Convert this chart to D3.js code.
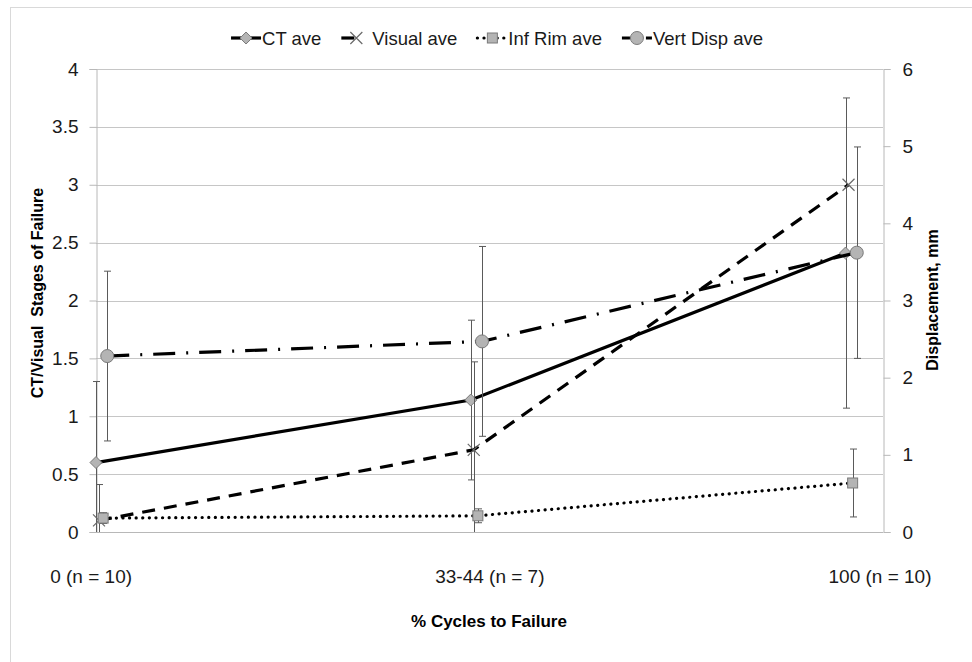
<!DOCTYPE html>
<html>
<head>
<meta charset="utf-8">
<script src="https://cdn.jsdelivr.net/npm/d3@7"></script>
<style>
  body { margin: 0; background: #fff; }
  svg { font-family: "Liberation Sans", Arial, sans-serif; }
</style>
</head>
<body>
<div id="chart"></div>
<script>
// category positions (x) and labels
const xCats = [0, 1, 2];
const catLabels = ["0 (n = 10)", "33-44 (n = 7)", "100 (n = 10)"];
const catLabelPos = [-0.013, 1.051, 2.092];

// left axis series (stages)
const ctAve = [0.6, 1.14, 2.41];
const ctErr = [0.7, 0.69, 1.34];
const visualAve = [0.1, 0.71, 3.0];
const visualErr = [0.31, 0.76, 0];

// right axis series (mm)
const infRimAve = [0.18, 0.21, 0.635];
const infRimErr = [0.07, 0.09, 0.44];
const vertDispAve = [2.28, 2.47, 3.62];
const vertDispErr = [1.1, 1.23, 1.37];

const leftTicks = [0, 0.5, 1, 1.5, 2, 2.5, 3, 3.5, 4];
const rightTicks = [0, 1, 2, 3, 4, 5, 6];

const width = 972, height = 662;
const plot = { left: 96, right: 883, top: 69, bottom: 532 };

const svg = d3.select("#chart").append("svg")
  .attr("width", width)
  .attr("height", height);

// outer chart border
svg.append("rect")
  .attr("x", 10.5).attr("y", 7.5)
  .attr("width", 1000).attr("height", 700)
  .attr("fill", "none").attr("stroke", "#d9d9d9");

const x = d3.scaleLinear().domain([0, 2.1]).range([plot.left, plot.right]);
const yL = d3.scaleLinear().domain([0, 4]).range([plot.bottom, plot.top]);
const yR = d3.scaleLinear().domain([0, 6]).range([plot.bottom, plot.top]);

// gridlines
svg.append("g").selectAll("line").data(leftTicks.filter(d => d > 0)).join("line")
  .attr("x1", plot.left).attr("x2", plot.right)
  .attr("y1", d => Math.round(yL(d)) + 0.5).attr("y2", d => Math.round(yL(d)) + 0.5)
  .attr("stroke", "#c6c6c6");

// axes
const axL = svg.append("g").attr("transform", `translate(${plot.left + 0.5},0)`)
  .call(d3.axisLeft(yL).tickValues(leftTicks).tickFormat(d3.format("")).tickSize(7).tickPadding(11));
const axR = svg.append("g").attr("transform", `translate(${plot.right + 0.5},0)`)
  .call(d3.axisRight(yR).tickValues(rightTicks).tickFormat(d3.format("")).tickSize(7).tickPadding(12));
[axL, axR].forEach(a => {
  a.attr("font-size", 19).attr("font-family", "Liberation Sans, Arial, sans-serif");
  a.select(".domain").attr("stroke", "#b8b8b8");
  a.selectAll(".tick line").attr("stroke", "#b8b8b8");
  a.selectAll(".tick text").attr("fill", "#1a1a1a");
});
svg.append("line")
  .attr("x1", plot.left).attr("x2", plot.right)
  .attr("y1", plot.bottom + 0.5).attr("y2", plot.bottom + 0.5)
  .attr("stroke", "#b8b8b8");

// category labels
svg.append("g").selectAll("text").data(catLabels).join("text")
  .attr("x", (d, i) => x(catLabelPos[i]))
  .attr("y", 583)
  .attr("text-anchor", "middle")
  .attr("font-size", 19)
  .attr("fill", "#1a1a1a")
  .text(d => d);

// axis titles
svg.append("text")
  .attr("transform", "translate(43,293) rotate(-90)")
  .attr("text-anchor", "middle")
  .attr("font-size", 16).attr("font-weight", "bold")
  .attr("xml:space", "preserve")
  .text("CT/Visual  Stages of Failure");
svg.append("text")
  .attr("transform", "translate(938,300) rotate(-90)")
  .attr("text-anchor", "middle")
  .attr("font-size", 16).attr("font-weight", "bold")
  .text("Displacement, mm");
svg.append("text")
  .attr("x", 489).attr("y", 627)
  .attr("text-anchor", "middle")
  .attr("font-size", 17).attr("font-weight", "bold")
  .text("% Cycles to Failure");

// series definitions
const series = [
  { name: "CT ave", vals: ctAve, err: ctErr, y: yL, off: 0, dash: null, cap: "butt", marker: "diamond" },
  { name: "Visual ave", vals: visualAve, err: visualErr, y: yL, off: 0.008, dash: "13,9", cap: "butt", marker: "cross" },
  { name: "Inf Rim ave", vals: infRimAve, err: infRimErr, y: yR, off: 0.019, dash: "0.1,6.5", cap: "round", marker: "square" },
  { name: "Vert Disp ave", vals: vertDispAve, err: vertDispErr, y: yR, off: 0.03, dash: "22,11,2,11", cap: "butt", marker: "circle" }
];

const markerFill = "#b4b4b4", markerStroke = "#7a7a7a";

function drawMarker(g, type, cx, cy) {
  if (type === "diamond") {
    g.append("path")
      .attr("d", `M${cx},${cy - 6}L${cx + 6},${cy}L${cx},${cy + 6}L${cx - 6},${cy}Z`)
      .attr("fill", markerFill).attr("stroke", markerStroke).attr("stroke-width", 1);
  } else if (type === "square") {
    g.append("rect")
      .attr("x", cx - 5).attr("y", cy - 5).attr("width", 10).attr("height", 10)
      .attr("fill", markerFill).attr("stroke", markerStroke).attr("stroke-width", 1);
  } else if (type === "circle") {
    g.append("circle").attr("cx", cx).attr("cy", cy).attr("r", 6.5)
      .attr("fill", markerFill).attr("stroke", markerStroke).attr("stroke-width", 1);
  } else if (type === "cross") {
    g.append("path")
      .attr("d", `M${cx - 6},${cy - 6}L${cx + 6},${cy + 6}M${cx - 6},${cy + 6}L${cx + 6},${cy - 6}`)
      .attr("stroke", "#6a6a6a").attr("stroke-width", 1.2).attr("fill", "none");
  }
}

const line = d3.line();

series.forEach(s => {
  const g = svg.append("g");
  const pts = xCats.map((c, i) => [x(c + s.off), s.y(s.vals[i])]);

  // error bars
  const eb = g.append("g").attr("stroke", "#5a5a5a").attr("stroke-width", 1);
  xCats.forEach((c, i) => {
    if (!s.err[i]) return;
    const px = Math.round(x(c + s.off)) + 0.5;
    const dom = s.y.domain();
    const hi = Math.min(s.vals[i] + s.err[i], dom[1]);
    const lo = Math.max(s.vals[i] - s.err[i], dom[0]);
    eb.append("line").attr("x1", px).attr("x2", px).attr("y1", s.y(hi)).attr("y2", s.y(lo));
    if (s.vals[i] + s.err[i] <= dom[1])
      eb.append("line").attr("x1", px - 3.5).attr("x2", px + 3.5).attr("y1", s.y(hi)).attr("y2", s.y(hi));
    if (s.vals[i] - s.err[i] >= dom[0])
      eb.append("line").attr("x1", px - 3.5).attr("x2", px + 3.5).attr("y1", s.y(lo)).attr("y2", s.y(lo));
  });

  g.append("path")
    .attr("d", line(pts))
    .attr("fill", "none")
    .attr("stroke", "#000")
    .attr("stroke-width", 3.2)
    .attr("stroke-linecap", s.cap)
    .attr("stroke-dasharray", s.dash);

  pts.forEach(p => drawMarker(g, s.marker, p[0], p[1]));
});

// legend
const legend = svg.append("g");
let lx = 0;
const ly = 38;
series.forEach(s => {
  const item = legend.append("g").attr("transform", `translate(${lx},0)`);
  const sw = 30;
  item.append("line")
    .attr("x1", 0).attr("x2", sw).attr("y1", ly).attr("y2", ly)
    .attr("stroke", "#000").attr("stroke-width", 3.2)
    .attr("stroke-linecap", s.cap)
    .attr("stroke-dasharray", s.dash === "22,11,2,11" ? "8,4" : (s.dash === "13,9" ? "13,30" : s.dash));
  drawMarker(item, s.marker, sw / 2, ly);
  const t = item.append("text")
    .attr("x", sw + 1).attr("y", ly + 6.5)
    .attr("font-size", 18.5).attr("fill", "#1a1a1a")
    .text(s.name);
  lx += sw + 1 + t.node().getComputedTextLength() + 20;
});
legend.attr("transform", `translate(${497 - (lx - 20) / 2},0)`);
</script>
</body>
</html>
